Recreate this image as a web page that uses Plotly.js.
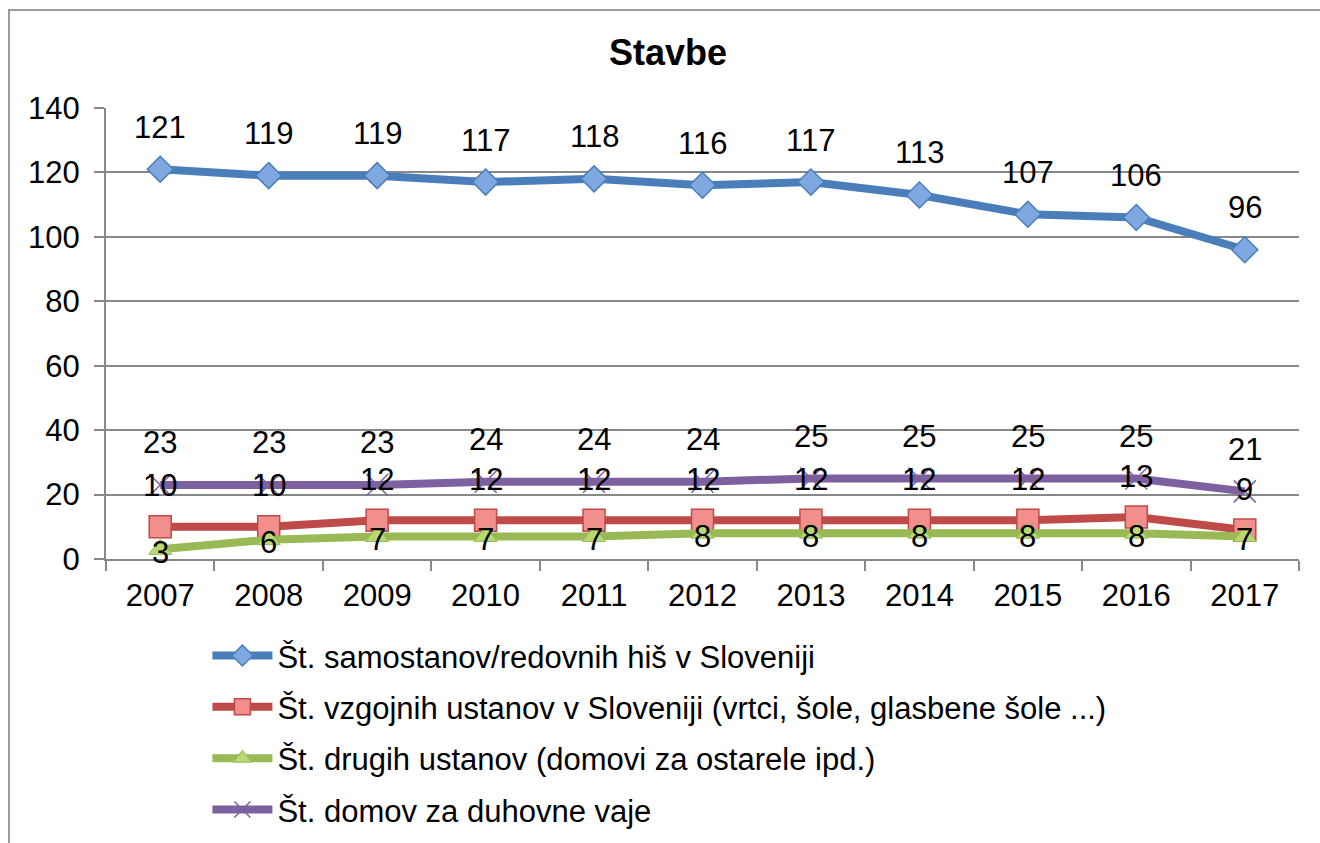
<!DOCTYPE html>
<html><head><meta charset="utf-8">
<script src="https://cdn.plot.ly/plotly-3.0.1.min.js"></script>
<style>
html,body{margin:0;padding:0;background:#fff;overflow:hidden;}
#wrap{position:absolute;left:0;top:0;width:1320px;height:843px;overflow:hidden;}
#frame{position:absolute;left:8px;top:9px;width:1320px;height:850px;border:2px solid #9a9a9a;box-sizing:border-box;pointer-events:none;z-index:5;}
#chart{position:absolute;left:0;top:0;width:1320px;height:870px;}
</style></head>
<body>
<div id="wrap">
<div id="chart"></div>
<div id="frame"></div>
</div>
<script>
const years = ['2007','2008','2009','2010','2011','2012','2013','2014','2015','2016','2017'];
const samostani = [121,119,119,117,118,116,117,113,107,106,96];
const vzgojne = [10,10,12,12,12,12,12,12,12,13,9];
const druge = [3,6,7,7,7,8,8,8,8,8,7];
const duhovne = [23,23,23,24,24,24,25,25,25,25,21];
const names = [
  'Št. samostanov/redovnih hiš v Sloveniji',
  'Št. vzgojnih ustanov v Sloveniji (vrtci, šole, glasbene šole ...)',
  'Št. drugih ustanov (domovi za ostarele ipd.)',
  'Št. domov za duhovne vaje'
];

const FONT = 'Liberation Sans, Arial, sans-serif';
function tr(y, name, color, sym, fill, size, lw, grp){
  return {x: years, y: y, name: name, type:'scatter', mode:'lines+markers',
    legendgroup: grp,
    line:{color: color, width: 8},
    marker:{symbol: sym, size: size, color: fill, line:{color: color, width: lw}}};
}
const data = [
  tr(samostani, names[0], '#4A7EBB', 'diamond', '#7FA8E0', 20, 1.5, 'a'),
  tr(vzgojne, names[1], '#BE4B48', 'square', '#F28E8C', 22, 1.5, 'b'),
  tr(druge, names[2], '#98B954', 'triangle-up', '#B8D972', 20, 1, 'c'),
  tr(duhovne, names[3], '#7D60A0', 'x-thin', '#7D60A0', 22, 1.5, 'd')
];

const annotations = [];
function labels(ys, shift){
  ys.forEach((v,i)=>annotations.push({x: i, y: v, xref:'x', yref:'y', text: String(v), showarrow:false,
    yshift: shift, font:{family: FONT, size: 31, color:'#000'}}));
}
labels(samostani, 42);
labels(duhovne, 42);
labels(vzgojne, 41);
labels(druge, -3);

const H = 870;
const layout = {
  width:1320, height:H,
  margin:{l:106, r:21, t:108, b:H-559},
  paper_bgcolor:'#fff', plot_bgcolor:'#fff',
  title:{text:'<b>Stavbe</b>', x:0.506, xanchor:'center', y:1-52/H, yanchor:'middle',
    font:{family: FONT, size: 36, color:'#000'}},
  xaxis:{type:'category', tickson:'boundaries', ticks:'outside', ticklen:10, tickcolor:'#888', tickwidth:2,
    showline:true, linecolor:'#888', linewidth:2, showgrid:false, ticklabelstandoff: 8,
    tickfont:{family: FONT, size: 31, color:'#000'}, range:[-0.5,10.5]},
  yaxis:{range:[0,140], dtick:20, ticks:'outside', ticklen:10, tickcolor:'#888', tickwidth:2,
    showline:true, linecolor:'#888', linewidth:2, gridcolor:'#888', gridwidth:2, ticklabelstandoff: 8,
    zeroline:false, tickfont:{family: FONT, size: 31, color:'#000'}},
  showlegend:true,
  legend:{x:0.085, xanchor:'left', y:-0.155, yanchor:'top', orientation:'v',
    font:{family: FONT, size: 31, color:'#000'}, tracegroupgap: 8, itemwidth:60,
    bgcolor:'rgba(0,0,0,0)'},
  annotations: annotations
};
Plotly.newPlot('chart', data, layout, {displayModeBar:false, staticPlot:true});
</script>
</body></html>
